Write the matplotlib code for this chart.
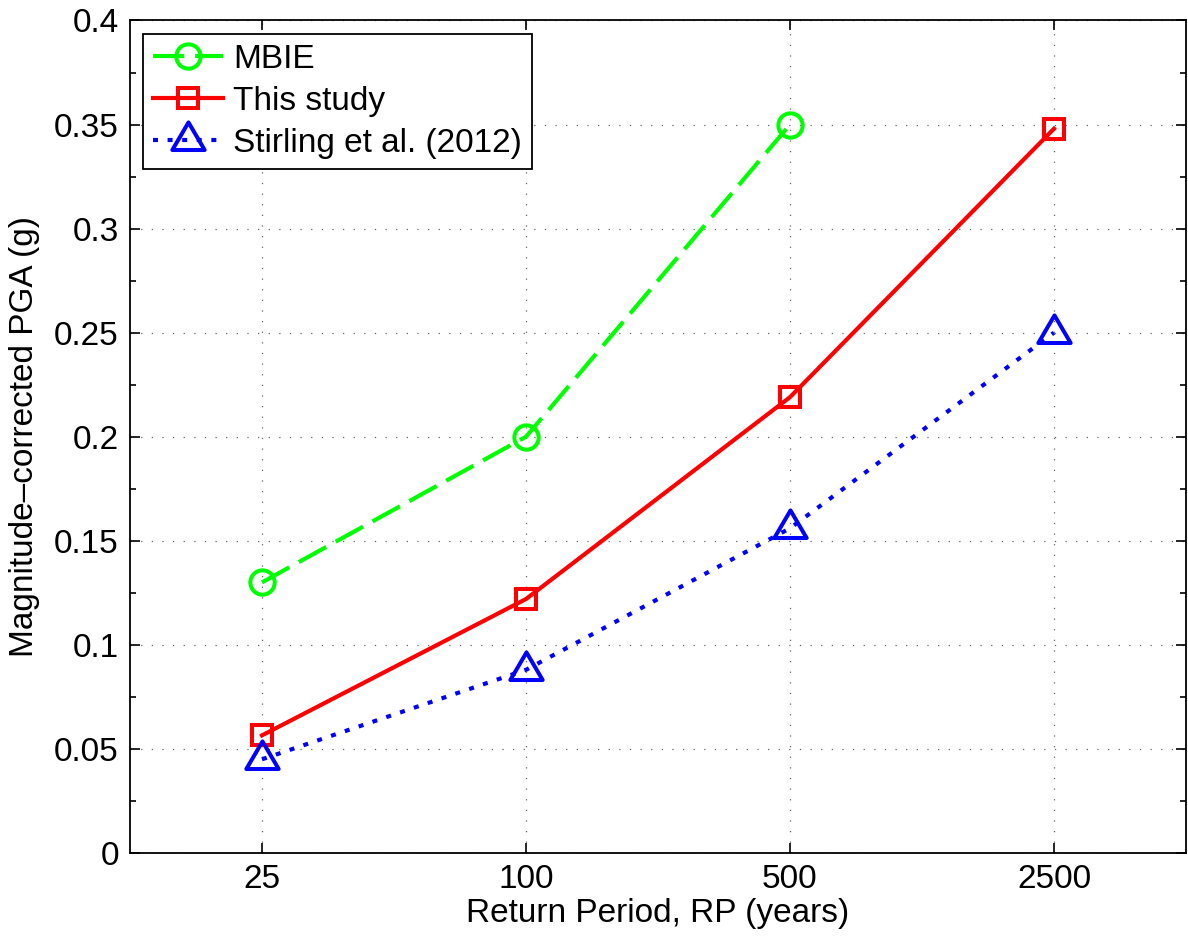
import matplotlib
matplotlib.use('Agg')
import matplotlib.pyplot as plt
from matplotlib.path import Path

plt.rcParams['font.family'] = ['Liberation Sans', 'DejaVu Sans']

# data
return_periods = ['25', '100', '500', '2500']
mbie = [0.13, 0.20, 0.35]
this_study = [0.0565, 0.122, 0.219, 0.348]
stirling = [0.045, 0.088, 0.156, 0.25]
y_ticks = [0, 0.05, 0.1, 0.15, 0.2, 0.25, 0.3, 0.35, 0.4]
y_ticklabels = ['0', '0.05', '0.1', '0.15', '0.2', '0.25', '0.3', '0.35', '0.4']
y_minor = [0.025, 0.075, 0.125, 0.175, 0.225, 0.275, 0.325, 0.375]

x = list(range(1, len(return_periods) + 1))

# matlab style triangle (data point sits below the centre of the glyph)
tri = Path([(0, 19), (-17, -10), (17, -10), (0, 0)],
           [Path.MOVETO, Path.LINETO, Path.LINETO, Path.CLOSEPOLY])

fs = 24
fig = plt.figure(figsize=(11.88, 9.40), dpi=100)
ax = fig.add_axes([0.1094, 0.0926, 0.8889, 0.8856])

lw = 3.0
ax.plot(x[:len(mbie)], mbie, color=(0, 1, 0), lw=lw, dashes=(7.5, 2.6),
        marker='o', ms=17.5, mew=2.9, mfc='none', label='MBIE')
ax.plot(x, this_study, color=(1, 0, 0), lw=lw, ls='-',
        marker='s', ms=14.5, mew=2.9, mfc='none', label='This study')
ax.plot(x, stirling, color=(0, 0, 1), lw=lw, dashes=(1.2, 2.3),
        marker=tri, ms=26, mew=2.9, mfc='none', label='Stirling et al. (2012)')

ax.set_xlim(0.5, 4.5)
ax.set_ylim(0, 0.4)
ax.set_xticks(x)
ax.set_xticklabels(return_periods)
ax.set_yticks(y_ticks)
ax.set_yticklabels(y_ticklabels)
ax.set_yticks(y_minor, minor=True)

ax.tick_params(which='both', direction='in', top=True, right=True,
               labelsize=fs, width=1.2, pad=8)
ax.tick_params(which='major', length=7)
ax.tick_params(which='minor', length=4)
for s in ax.spines.values():
    s.set_linewidth(1.3)

ax.grid(True, which='major', color='0.4', lw=0.9, ls=(0, (1, 7.5)))

ax.set_xlabel('Return Period, RP (years)', fontsize=fs, labelpad=2)
ax.set_ylabel('Magnitude–corrected PGA (g)', fontsize=fs, labelpad=10)

leg = ax.legend(loc='upper left', fontsize=fs, fancybox=False, framealpha=1,
                edgecolor='black', handlelength=2.1, borderaxespad=0.4,
                handletextpad=0.3, labelspacing=0.33, borderpad=0.3)
leg.get_frame().set_linewidth(1.3)

fig.savefig('out.png', dpi=100)
